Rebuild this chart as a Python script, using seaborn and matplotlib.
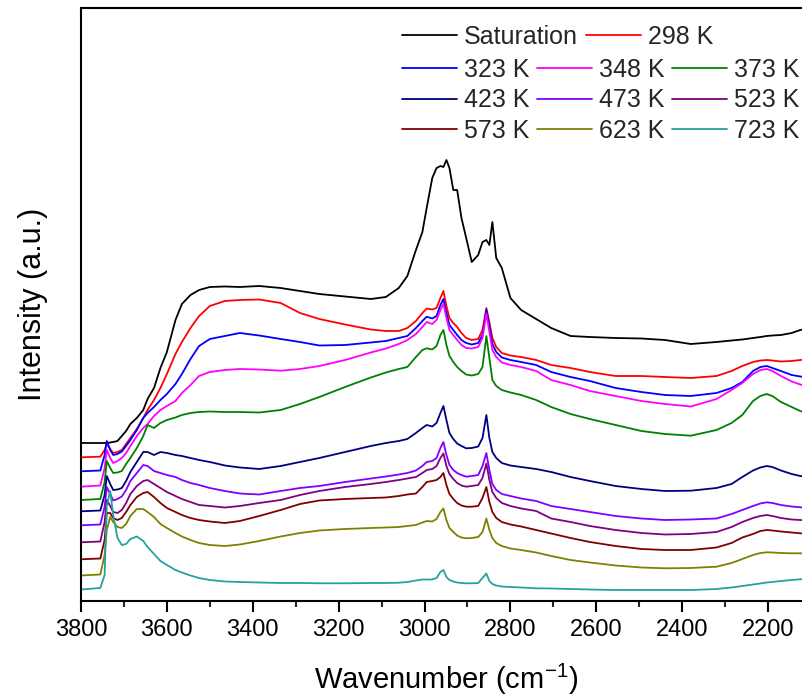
import matplotlib
matplotlib.use("Agg")
import matplotlib.pyplot as plt
from matplotlib.lines import Line2D
from matplotlib.ticker import MultipleLocator
import pandas as pd
import seaborn as sns

# Wavenumber grid (cm^-1), shared by every spectrum
wavenumber = [3800, 3755, 3745, 3740, 3732, 3725, 3715, 3705, 3695, 3685,
              3670, 3655, 3645, 3630, 3615, 3600, 3580, 3565, 3545, 3525,
              3500, 3465, 3430, 3385, 3335, 3290, 3245, 3185, 3125, 3090,
              3060, 3040, 3020, 3005, 2995, 2982, 2972, 2963, 2956, 2949,
              2942, 2933, 2924, 2914, 2903, 2890, 2875, 2865, 2856, 2849,
              2842, 2833, 2820, 2800, 2775, 2740, 2705, 2660, 2615, 2555,
              2495, 2440, 2380, 2320, 2285, 2260, 2235, 2218, 2203, 2190,
              2170, 2145, 2125, 2100]

# Intensities (a.u., spectra stacked with offsets)
saturation = [158, 158, 158, 158, 158.5, 159, 160, 165, 170, 177,
              183, 191, 202, 213, 233, 249, 281, 297, 306, 311,
              314, 314.5, 314, 315, 313, 310, 307, 304.5, 302, 304,
              313, 325, 351, 369, 393, 423, 433, 435, 434, 441,
              433, 411, 411, 383, 363, 339, 346, 359, 361, 356,
              379, 343, 333, 303, 291, 282, 273, 265, 264, 263,
              262.5, 261, 257, 259, 260.5, 261.5, 263, 264, 265, 265.5,
              266, 268, 271, 273]
t298 = [143.7, 144.3, 151, 157.5, 152, 148, 149, 151, 157, 163,
        172, 183, 191, 201, 213, 227, 247, 259, 273, 285,
        295, 300, 301, 301.5, 298, 288, 282, 276.5, 271.5, 270,
        270, 273, 280, 288, 292.5, 291.5, 293, 303, 310, 295,
        283, 278, 274, 268, 263, 261, 262, 271, 293, 279,
        263, 254, 248, 245.5, 244, 241, 236, 233, 229, 225,
        225, 224, 223, 225, 230, 235, 239, 240.5, 241, 240.5,
        239.5, 240, 241, 242]
t323 = [129.7, 130.5, 146, 160, 151, 146, 147, 149.5, 155, 161,
        171, 183, 188, 194, 201, 207, 217, 227, 242, 255,
        262, 265, 268, 265.5, 262, 259, 255.5, 256, 258.5, 260,
        263, 265, 273, 280, 284.3, 282.5, 285, 296, 302, 288,
        276, 271, 266, 261, 258, 256.5, 258, 266, 291, 275,
        257, 249, 243.5, 241, 239, 236, 229, 224, 220, 213,
        209, 206, 205, 208, 213, 219, 230, 234, 235, 233,
        230, 226, 224.5, 223]
t348 = [114.3, 115.5, 133, 151, 143, 138, 140, 143, 148, 155,
        165, 173, 177, 185, 191, 195, 200, 208, 216, 225,
        229, 231, 232, 231.5, 230.3, 232, 235, 241, 248.5, 252.5,
        257, 261, 267, 274, 279, 277, 281, 291, 297, 283,
        271, 266, 261, 256, 253, 252.5, 254, 263, 287.5, 269,
        251, 244, 238.5, 236, 234, 230, 221, 216, 210, 205,
        200, 197, 194.5, 202, 211, 218, 227, 231, 232, 230,
        225, 219.5, 216.5, 214]
t373 = [101, 102, 119, 140, 133, 128, 128.5, 130, 137, 143,
        153, 165, 176, 173, 178, 181, 183.5, 186, 188, 189,
        189.5, 189, 189, 188.5, 191, 197, 204, 214, 223.5, 228.5,
        232, 234, 244, 251, 252.7, 251.5, 255, 266, 271, 256,
        245, 239, 234, 230, 226.5, 225.5, 227, 234, 265, 243,
        221, 215, 211, 208.5, 206, 201, 194, 187, 182, 176,
        170, 167, 165.3, 171, 178, 186, 200, 205, 207, 205,
        199, 194, 190, 187]
t423 = [89.7, 90.5, 106, 125, 117, 111, 111.5, 113, 120, 129,
        139, 149, 149, 146, 149, 148, 146, 145, 143, 141,
        139, 135.5, 133.5, 132, 135, 139, 143, 149, 155, 158,
        160, 162, 168, 173, 176, 174.5, 178, 188, 195, 181,
        168, 162, 157.5, 155, 152.7, 153, 154.5, 163, 186, 163,
        149, 143, 138, 135.5, 134, 132, 129, 124, 120, 115,
        112, 110, 110.3, 113, 117, 124, 130.5, 133.5, 135, 134,
        130.5, 127, 125, 123]
t473 = [75.7, 76.5, 94, 114, 107, 100.5, 102, 104.5, 111, 120,
        128, 136, 135, 130, 128, 126, 124, 121, 118, 116,
        113, 110, 107.5, 106.5, 110, 113, 115, 119, 122.5, 124.5,
        126.5, 128, 130.5, 135, 139, 140, 143, 153, 159, 146,
        136, 131, 128, 126, 124.3, 125, 126, 135, 148, 131,
        117, 111, 107, 105, 102.5, 100, 95, 92, 89, 85,
        82.5, 81, 81.5, 82.5, 87, 91, 95, 97.5, 98.7, 98,
        96, 94.5, 93.7, 93]
t523 = [58.7, 59.5, 79, 101, 95, 89, 88, 91, 98, 107,
        115, 120, 121, 117, 113, 109, 105, 102, 99, 96,
        95, 93.5, 95, 98, 101, 106, 110, 114, 117, 119,
        121, 122.5, 124, 128, 131, 132, 135, 143, 147.5, 135,
        127, 122, 118, 115.5, 114.3, 115, 116, 123, 137.5, 121,
        109, 103, 98, 95, 92.5, 90, 82.5, 79, 75, 71,
        68, 66.5, 67, 69, 74, 79, 83, 85, 86, 85,
        83, 81.5, 81, 80.5]
t573 = [41.7, 42.5, 61, 88, 88, 83, 81, 83, 89, 96,
        104, 108, 109, 104, 98, 93, 89, 86, 83, 81,
        79.5, 78, 80, 85, 91, 97, 100.5, 102, 103, 103.5,
        105, 106.5, 107.5, 114, 119, 120, 121, 124, 128, 116,
        107, 102, 98, 95.5, 94.3, 94.3, 95, 103, 114, 99,
        89, 83, 79, 76.5, 74.5, 71, 67.5, 63, 59, 55,
        52, 51, 51, 53.5, 58, 63.5, 67, 70, 71, 70.5,
        69.5, 68.5, 67.7, 67]
t623 = [25.5, 26.5, 46, 71, 84, 79, 74, 73, 77, 85,
        92, 92, 89, 84, 77, 73, 68, 64.5, 61, 58,
        56, 55, 56.5, 60, 64.5, 68, 70.5, 72, 73, 73.5,
        74, 75, 76, 78.5, 80, 79.5, 82, 89, 92.5, 81,
        73, 69, 65.5, 63.5, 62.7, 63, 64, 69, 82.5, 71,
        63, 58, 55, 52.5, 51, 48.5, 45, 41, 38.5, 35.5,
        33.5, 32.7, 33, 34.3, 38, 42, 46, 48, 48.7, 48.5,
        48, 47.7, 47.7, 47.5]
t723 = [11.5, 13, 26, 95, 110, 86, 63, 56, 57, 62,
        64.5, 60, 54, 47, 40, 36, 31, 28.5, 25.5, 23,
        21, 19.5, 19, 18.5, 18, 18, 17.7, 17.7, 18, 18,
        18.3, 19, 20.5, 21.5, 21.5, 21.5, 23, 29, 31, 24,
        21, 19.5, 18.5, 18, 17.7, 17.7, 18, 23, 27.5, 20,
        17, 15.5, 14.5, 14, 13.5, 12.7, 12.5, 12, 11.5, 11,
        11, 11, 11, 12, 13.5, 15, 16.5, 17.5, 18.5, 19,
        20, 21, 21.7, 22.5]

labels = ["Saturation", "298 K", "323 K", "348 K", "373 K", "423 K",
          "473 K", "523 K", "573 K", "623 K", "723 K"]
series = [saturation, t298, t323, t348, t373, t423, t473, t523, t573, t623, t723]
colors = ["#000000", "#FF0000", "#0000FF", "#FF00FF", "#008000", "#000080",
          "#8000FF", "#800080", "#800000", "#808000", "#26A0A0"]

df = pd.concat(
    [pd.DataFrame({"Wavenumber": wavenumber, "Intensity": vals, "Sample": lab})
     for lab, vals in zip(labels, series)],
    ignore_index=True,
)

sns.set_theme(style="white")
plt.rcParams["font.family"] = ["Liberation Sans", "DejaVu Sans"]
plt.rcParams["mathtext.fontset"] = "custom"
plt.rcParams["mathtext.rm"] = "Liberation Sans"
plt.rcParams["mathtext.it"] = "Liberation Sans:italic"
plt.rcParams["mathtext.default"] = "regular"

fig = plt.figure(figsize=(8.03, 6.98), dpi=100)
ax = fig.add_axes([81 / 803, 97 / 698, 730 / 803, 593 / 698])

sns.lineplot(data=df, x="Wavenumber", y="Intensity", hue="Sample",
             palette=dict(zip(labels, colors)), hue_order=labels,
             sort=False, estimator=None, linewidth=1.3, legend=False, ax=ax)

ax.set_xlim(3800, 2100)
ax.set_ylim(0, 593)
ax.set_yticks([])
ax.xaxis.set_major_locator(MultipleLocator(200))
ax.xaxis.set_minor_locator(MultipleLocator(100))
ax.tick_params(axis="x", which="major", direction="out", length=8, width=1.5,
               labelsize=17, pad=5, bottom=True, top=False, colors="black")
ax.tick_params(axis="x", which="minor", direction="out", length=4.5, width=1.5,
               bottom=True, top=False)
for sp in ax.spines.values():
    sp.set_linewidth(1.5)
    sp.set_color("black")

ax.set_xlabel("Wavenumber (cm$^{-1}$)", fontsize=21, labelpad=15, color="black")
ax.set_ylabel("Intensity (a.u.)", fontsize=22, labelpad=24, color="black")

handles = [Line2D([], [], color=c, lw=1.3) for c in colors]
common = dict(loc="upper left", bbox_transform=fig.transFigure, frameon=False,
              fontsize=18, handlelength=2.2, handletextpad=0.28,
              columnspacing=0.3, borderpad=0, borderaxespad=0,
              labelspacing=0.25)
fig.legend(handles[:2], labels[:2], ncol=2,
           bbox_to_anchor=(402 / 803, 1 - 25 / 698), **common)
order = [2, 5, 8, 3, 6, 9, 4, 7, 10]
fig.legend([handles[i] for i in order], [labels[i] for i in order], ncol=3,
           bbox_to_anchor=(402 / 803, 1 - 58 / 698), **common)

fig.savefig("out.png", dpi=100)
